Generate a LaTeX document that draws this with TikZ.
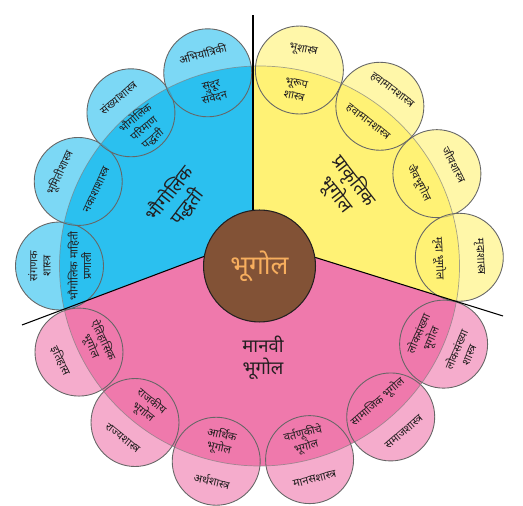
\documentclass[tikz,border=0pt]{standalone}
\usepackage{fontspec}
\newfontfamily\deva[Script=Devanagari]{Noto Sans}
\definecolor{nila}{HTML}{2BC0EF}
\definecolor{pivla}{HTML}{FFF275}
\definecolor{gulabi}{HTML}{EF79AC}
\definecolor{tapkiri}{HTML}{825236}
\definecolor{keshari}{HTML}{F7AE5E}
\definecolor{shai}{HTML}{231F20}

\begin{document}
\begin{tikzpicture}[x=0.02cm,y=0.02cm,
  vartul/.style={circle, draw=black!60, line width=0.5pt, fill opacity=0.62, minimum size=1.76cm, inner sep=0pt},
  lahan/.style={font=\deva\fontsize{6.3}{7.6}\selectfont, text=shai, align=center, inner sep=0pt},
  vibhag/.style={font=\deva\fontsize{10.5}{12.5}\selectfont, text=shai, align=center, inner sep=0pt}]
\useasboundingbox (0,0) rectangle (523,506);
\newcommand\shakha[6]{
\node[vartul, fill=#3] (#1) at (#2:200) {};
\node[lahan, rotate=#4] (#1b) at (#2:220) {#5};
\node[lahan, rotate=#4] (#1a) at (#2:180) {#6};
}
\coordinate (a) at (253,268);
\coordinate (t) at (253,491);
\coordinate (l) at (22,181);
\coordinate (r) at (503,190);
% tin vibhag
\begin{scope}
\clip (259.5,240) circle (200);
\fill[nila] (a) -- (-24,164) -- (-24,520) -- (253,520) -- cycle;
\fill[pivla] (a) -- (253,520) -- (560,520) -- (553,174) -- cycle;
\fill[gulabi] (a) -- (553,174) -- (560,-20) -- (-24,-20) -- (-24,164) -- cycle;
\end{scope}
% shakha
\begin{scope}[shift={(259.5,240)}]
\shakha{n1}{180}{nila}{90}{संगणक\\शास्त्र}{भौगोलिक माहिती\\प्रणाली}
\shakha{n2}{155}{nila}{65}{भूमितीशास्त्र}{नकाशाशास्त्र}
\shakha{n3}{130}{nila}{40}{संख्याशास्त्र}{भौगोलिक\\परिमाण\\पद्धती}
\shakha{n4}{105}{nila}{15}{अभियांत्रिकी}{सुदूर\\संवेदन}
\shakha{p1}{78.5}{pivla}{-11.5}{भूशास्त्र}{भूरूप\\शास्त्र}
\shakha{p2}{53}{pivla}{-37}{हवामानशास्त्र}{हवामानशास्त्र}
\shakha{p3}{27.5}{pivla}{-62.5}{जीवशास्त्र}{जैवभूगोल}
\shakha{p4}{2.5}{pivla}{-87.5}{मृदाशास्त्र}{मृदा भूगोल}
\shakha{g1}{337}{gulabi}{67}{लोकसंख्या\\शास्त्र}{लोकसंख्या\\भूगोल}
\shakha{g2}{311}{gulabi}{41}{समाजशास्त्र}{सामाजिक भूगोल}
\shakha{g3}{284.5}{gulabi}{14.5}{मानसशास्त्र}{वर्तणूकीचे\\भूगोल}
\shakha{g4}{257.5}{gulabi}{-12.5}{अर्थशास्त्र}{आर्थिक\\भूगोल}
\shakha{g5}{231.5}{gulabi}{-38.5}{राज्यशास्त्र}{राजकीय\\भूगोल}
\shakha{g6}{205.5}{gulabi}{-64.5}{इतिहास}{ऐतिहासिक\\भूगोल}
\draw[black!50, line width=0.4pt, opacity=0.7] (0,0) circle (200);
\end{scope}
\draw[line width=0.6pt] (a) -- (t);
\draw[line width=0.6pt] (a) -- (l);
\draw[line width=0.6pt] (a) -- (r);
\node[vibhag, rotate=52] (paddhati) at (178,306) {भौगोलिक\\पद्धती};
\node[vibhag, rotate=-52] (prakrutik) at (345,318) {प्राकृतिक\\भूगोल};
\node[vibhag] (manavi) at (263,148) {मानवी\\भूगोल};
\node[circle, draw=shai, line width=0.6pt, fill=tapkiri, minimum size=2.24cm, inner sep=0pt,
  font=\deva\fontsize{15}{17}\selectfont, text=keshari] (bhugol) at (259.5,240) {भूगोल};
\end{tikzpicture}
\end{document}
